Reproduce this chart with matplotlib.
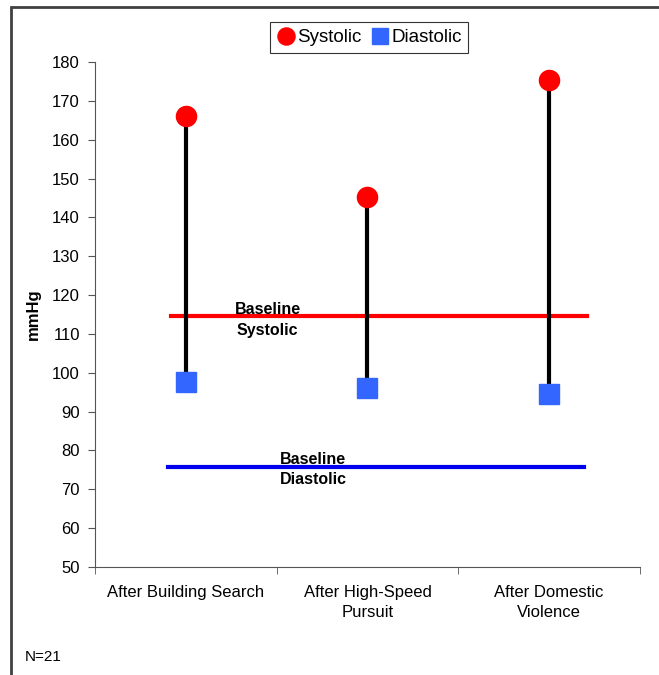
import matplotlib.pyplot as plt
from matplotlib.patches import Rectangle

plt.rcParams['font.family'] = ['Liberation Sans', 'DejaVu Sans']

# 数据
categories = ["After Building Search", "After High-Speed\nPursuit", "After Domestic\nViolence"]
systolic = [166.1, 145.2, 175.3]
diastolic = [97.6, 96.1, 94.5]
baseline_systolic = 114.6
baseline_diastolic = 75.7

fig = plt.figure(figsize=(6.59, 6.75), dpi=100)
ax = fig.add_axes([0.1442, 0.160, 0.8268, 0.748])

x = list(range(len(categories)))

# 竖线 (舒张压到收缩压)
ax.vlines(x, diastolic, systolic, color='black', linewidth=3, zorder=2)
ax.plot(x, systolic, 'o', color='#ff0000', markersize=14.5, label='Systolic', zorder=3)
ax.plot(x, diastolic, 's', color='#3366ff', markersize=14, label='Diastolic', zorder=3)

# 基线
ax.plot([-0.08, 2.21], [baseline_systolic] * 2, color='#ff0000', linewidth=3, zorder=1)
ax.plot([-0.10, 2.19], [baseline_diastolic] * 2, color='#0000ee', linewidth=3, zorder=1)
ax.text(0.45, baseline_systolic - 1.0, "Baseline\nSystolic", ha='center', va='center',
        multialignment='center', fontsize=11.5, fontweight='bold', linespacing=1.45)
ax.text(0.70, baseline_diastolic - 0.5, "Baseline\nDiastolic", ha='center', va='center',
        multialignment='center', fontsize=11.5, fontweight='bold', linespacing=1.4)

ax.set_xlim(-0.5, 2.5)
ax.set_ylim(50, 180)
ax.set_yticks(range(50, 181, 10))
ax.set_xticks(x)
ax.set_xticklabels(categories, linespacing=1.45)
ax.set_xticks([-0.5, 0.5, 1.5, 2.5], minor=True)
ax.tick_params(axis='x', which='major', length=0, pad=13, labelsize=12)
ax.tick_params(axis='x', which='minor', length=5, direction='out', color='#555555')
ax.tick_params(axis='y', length=5, direction='out', color='#555555', labelsize=12, pad=6)
ax.set_ylabel("mmHg", fontsize=12, fontweight='bold', labelpad=8)

for s in ['top', 'right']:
    ax.spines[s].set_visible(False)
for s in ['left', 'bottom']:
    ax.spines[s].set_color('#555555')
    ax.spines[s].set_linewidth(0.8)

leg = fig.legend(*ax.get_legend_handles_labels(), loc='upper center',
                 bbox_to_anchor=(369 / 659, 1 - 13 / 675), ncol=2, frameon=True,
                 fancybox=False, edgecolor='black', fontsize=13.5, handletextpad=0.1,
                 columnspacing=0.5, handlelength=1.0, borderpad=0.35, borderaxespad=0.5,
                 markerscale=0.85)
leg.get_frame().set_linewidth(0.8)

fig.text(25 / 659, 1 - 657 / 675, "N=21", fontsize=11, va='center')

# 外框
fig.patches.append(Rectangle((11 / 659, -0.1), 1.2, 1 - 7 / 675 + 0.1, transform=fig.transFigure,
                             fill=False, edgecolor='#404040', linewidth=2))

fig.savefig('out.png', dpi=100)
